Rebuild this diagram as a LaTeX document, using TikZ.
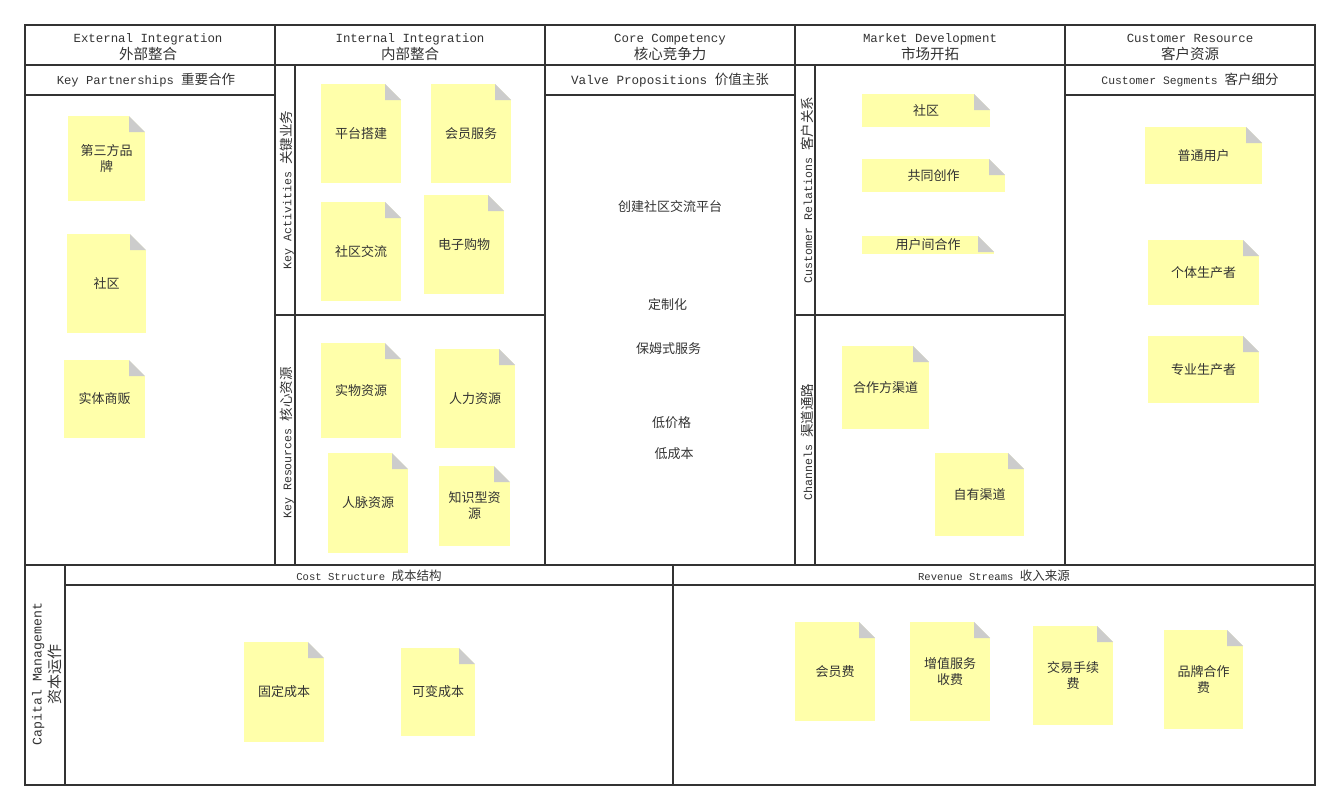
\documentclass[tikz,border=0pt]{standalone}
\usepackage{fontspec}
\setmainfont{Noto Sans CJK SC}
\setmonofont{Liberation Mono}
\newfontfamily\cjk{Noto Sans CJK SC}
\usetikzlibrary{positioning}
\definecolor{memofill}{HTML}{FFFFAA}
\definecolor{foldgray}{HTML}{CCCCCC}
\definecolor{gridline}{HTML}{333333}
\definecolor{txt}{HTML}{333333}
\tikzset{
  grid/.style={draw=gridline, line width=2pt},
  hdr/.style={align=center, inner sep=0pt, text=txt, font=\cjk\fontsize{14.5}{17}\selectfont},
  sub/.style={inner sep=0pt, text=txt, font=\cjk\fontsize{13.5}{16}\selectfont},
  vlab/.style={rotate=90, inner sep=0pt, text=txt, font=\cjk\fontsize{13.5}{19}\selectfont},
  vp/.style={inner sep=0pt, text=txt, font=\cjk\fontsize{13}{16}\selectfont},
  memo/.style 2 args={fill=memofill, align=center, inner sep=2pt, text=txt,
    minimum width=#1, minimum height=#2, font=\cjk\fontsize{13}{16}\selectfont,
    path picture={
      \fill[white] ([xshift=-16pt]path picture bounding box.north east)
        -- (path picture bounding box.north east)
        -- ([yshift=-16pt]path picture bounding box.north east) -- cycle;
      \fill[foldgray] ([xshift=-16pt]path picture bounding box.north east)
        -- ([xshift=-16pt,yshift=-16pt]path picture bounding box.north east)
        -- ([yshift=-16pt]path picture bounding box.north east) -- cycle;}}}
\newcommand{\en}[2][12.4]{{\ttfamily\fontsize{#1}{16}\selectfont #2}}

\begin{document}
\begin{tikzpicture}[x=1pt, y=-1pt]
  \useasboundingbox (0,0) rectangle (1340,809);

  % canvas grid
  \draw[grid] (25,25) rectangle (1315,785);
  \draw[grid] (25,65) -- (1315,65);
  \foreach \x in {275,545,795,1065}
    \draw[grid] (\x,25) -- (\x,565);
  \draw[grid] (25,95) -- (275,95) (545,95) -- (795,95) (1065,95) -- (1315,95);
  \draw[grid] (295,65) -- (295,565) (815,65) -- (815,565);
  \draw[grid] (275,315) -- (545,315) (795,315) -- (1065,315);
  \draw[grid] (25,565) -- (1315,565);
  \draw[grid] (65,565) -- (65,785);
  \draw[grid] (65,585) -- (1315,585);
  \draw[grid] (673,565) -- (673,785);

  % headers
  \node[hdr] (extH) at (148,47) {\en{External Integration}\\外部整合};
  \node[hdr] (intH) at (410,47) {\en{Internal Integration}\\内部整合};
  \node[hdr] (coreH) at (670,47) {\en{Core Competency}\\核心竞争力};
  \node[hdr] (mktH) at (930,47) {\en{Market Development}\\市场开拓};
  \node[hdr] (cusH) at (1190,47) {\en{Customer Resource}\\客户资源};

  \node[sub] (kpH) at (146,80) {\en[12.2]{Key Partnerships }重要合作};
  \node[sub] (vpH) at (670,80) {\en[12.6]{Valve Propositions }价值主张};
  \node[sub] (csH) at (1190,80) {\en[11.4]{Customer Segments }客户细分};
  \node[sub, font=\cjk\fontsize{12.5}{16}\selectfont] (costH) at (369,576) {\en[10.6]{Cost Structure }成本结构};
  \node[sub, font=\cjk\fontsize{12.5}{16}\selectfont] (revH) at (994,576) {\en[10.6]{Revenue Streams }收入来源};

  \node[vlab] (kaV) at (287,190) {\en[11.6]{Key Activities }关键业务};
  \node[vlab] (krV) at (287,443) {\en[11.6]{Key Resources }核心资源};
  \node[vlab] (crV) at (807,190) {\en[11.6]{Customer Relations }客户关系};
  \node[vlab] (chV) at (807,442) {\en[11.6]{Channels }渠道通路};
  \node[vlab, align=center, font=\cjk\fontsize{15}{19}\selectfont] (capV) at (47,674) {\en[13.2]{Capital Management}\\资本运作};

  % key partnerships
  \node[memo={77pt}{85pt}] (kp1) at (106.5,158.5) {第三方品\\牌};
  \node[memo={79pt}{99pt}] (kp2) at (106.5,283.5) {社区};
  \node[memo={81pt}{78pt}] (kp3) at (104.5,399) {实体商贩};

  % key activities
  \node[memo={80pt}{99pt}] (ka1) at (361,133.5) {平台搭建};
  \node[memo={80pt}{99pt}] (ka2) at (471,133.5) {会员服务};
  \node[memo={80pt}{99pt}] (ka3) at (361,251.5) {社区交流};
  \node[memo={80pt}{99pt}] (ka4) at (464,244.5) {电子购物};

  % key resources
  \node[memo={80pt}{95pt}] (kr1) at (361,390.5) {实物资源};
  \node[memo={80pt}{99pt}] (kr2) at (475,398.5) {人力资源};
  \node[memo={80pt}{100pt}] (kr3) at (368,503) {人脉资源};
  \node[memo={71pt}{80pt}] (kr4) at (474.5,506) {知识型资\\源};

  % value propositions
  \node[vp] (vp1) at (670,207) {创建社区交流平台};
  \node[vp] (vp2) at (667.5,305) {定制化};
  \node[vp] (vp3) at (668.5,349) {保姆式服务};
  \node[vp] (vp4) at (671.5,423) {低价格};
  \node[vp] (vp5) at (674,454) {低成本};

  % customer relations
  \node[memo={128pt}{33pt}] (cr1) at (926,110.5) {社区};
  \node[memo={143pt}{33pt}] (cr2) at (933.5,175.5) {共同创作};
  \node[memo={132pt}{18pt}, inner sep=0pt] (cr3) at (928,245) {用户间合作};

  % channels
  \node[memo={87pt}{83pt}] (ch1) at (885.5,387.5) {合作方渠道};
  \node[memo={89pt}{83pt}] (ch2) at (979.5,494.5) {自有渠道};

  % customer segments
  \node[memo={117pt}{57pt}] (cs1) at (1203.5,155.5) {普通用户};
  \node[memo={111pt}{65pt}] (cs2) at (1203.5,272.5) {个体生产者};
  \node[memo={111pt}{67pt}] (cs3) at (1203.5,369.5) {专业生产者};

  % cost structure
  \node[memo={80pt}{100pt}] (cost1) at (284,692) {固定成本};
  \node[memo={74pt}{88pt}] (cost2) at (438,692) {可变成本};

  % revenue streams
  \node[memo={80pt}{99pt}] (rev1) at (835,671.5) {会员费};
  \node[memo={80pt}{99pt}] (rev2) at (950,671.5) {增值服务\\收费};
  \node[memo={80pt}{99pt}] (rev3) at (1073,675.5) {交易手续\\费};
  \node[memo={79pt}{99pt}] (rev4) at (1203.5,679.5) {品牌合作\\费};
\end{tikzpicture}
\end{document}
